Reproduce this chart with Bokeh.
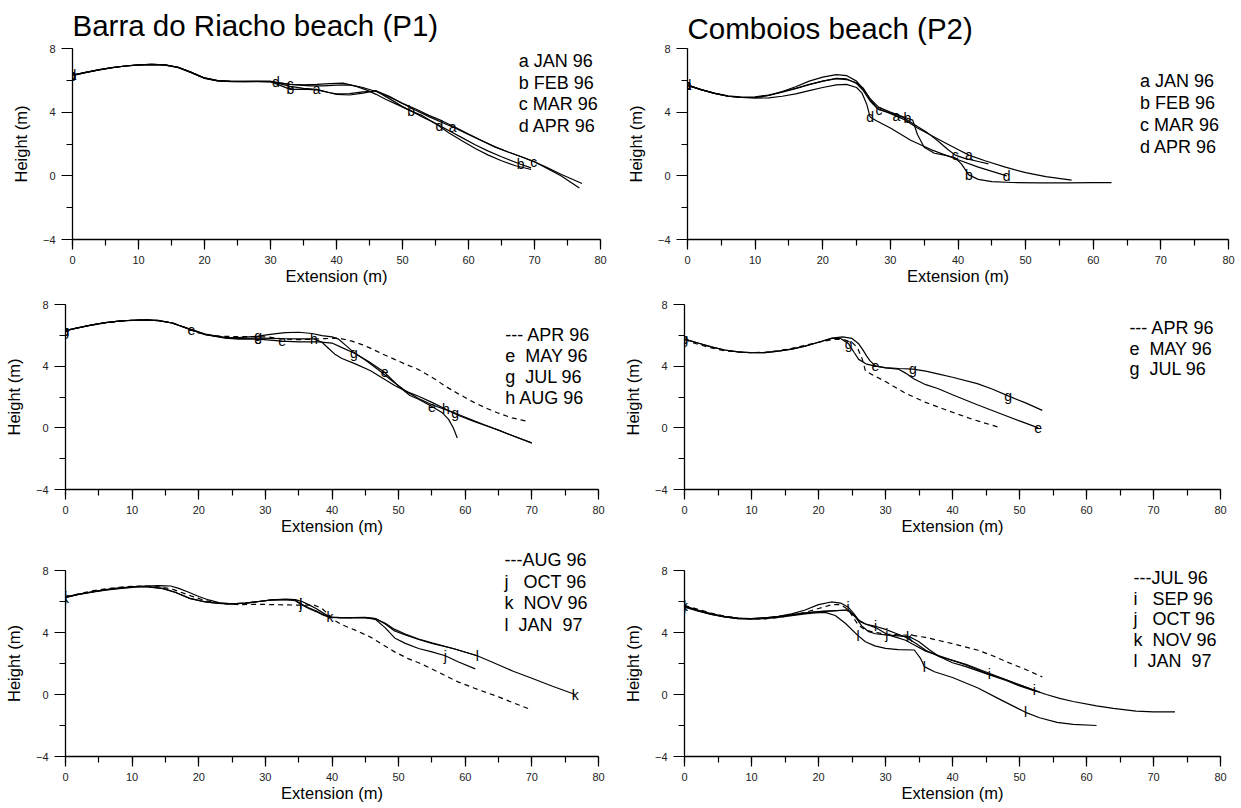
import numpy as np
from bokeh.plotting import figure
from bokeh.models import Range1d, Label, LabelSet, ColumnDataSource, SingleIntervalTicker, Title
from bokeh.layouts import column, row
from bokeh.core.properties import value
from bokeh.embed import file_html
from bokeh.resources import INLINE

FONT = "Liberation Sans"

# ---------------- DATA ----------------
# P1 = Barra do Riacho beach, P2 = Comboios beach ; x = extension (m), y = height (m)
P1_JAN96_x = [0, 2, 4, 6, 8, 10, 12, 14, 16, 18, 20, 22, 24, 26, 28, 30, 33, 35, 37, 39, 40, 42, 44, 46, 48, 50, 52, 54, 56, 57.6, 60, 62, 64, 66, 68, 70, 72, 74, 77.2]
P1_JAN96_y = [6.33, 6.5, 6.66, 6.8, 6.9, 6.97, 7.0, 6.97, 6.82, 6.5, 6.15, 5.98, 5.93, 5.93, 5.94, 5.93, 5.62, 5.5, 5.43, 5.22, 5.12, 5.08, 5.2, 5.35, 5.0, 4.55, 4.12, 3.72, 3.35, 3.07, 2.6, 2.2, 1.82, 1.5, 1.2, 0.88, 0.5, 0.1, -0.48]
P1_FEB96_x = [0, 2, 4, 6, 8, 10, 12, 14, 16, 18, 20, 22, 24, 26, 28, 30, 33, 35, 37, 39, 40, 42, 44, 46, 48, 50, 51.3, 53, 55, 57, 59, 61, 63, 65, 67.9, 69.5]
P1_FEB96_y = [6.3, 6.48, 6.65, 6.79, 6.9, 6.96, 6.99, 6.96, 6.8, 6.48, 6.12, 5.97, 5.92, 5.92, 5.93, 5.92, 5.43, 5.45, 5.4, 5.22, 5.15, 5.16, 5.28, 5.33, 4.85, 4.35, 4.07, 3.7, 3.3, 2.85, 2.4, 1.95, 1.55, 1.2, 0.73, 0.5]
P1_MAR96_x = [0, 2, 4, 6, 8, 10, 12, 14, 16, 18, 20, 22, 24, 26, 28, 30, 33, 36, 38, 40, 42, 44, 46, 48, 50, 52, 54, 56, 58, 60, 62, 64, 66, 68, 69.9, 72, 74, 76.8]
P1_MAR96_y = [6.32, 6.5, 6.66, 6.8, 6.9, 6.97, 7.0, 6.97, 6.82, 6.5, 6.14, 5.97, 5.93, 5.93, 5.94, 5.93, 5.74, 5.65, 5.65, 5.7, 5.72, 5.55, 5.3, 4.95, 4.55, 4.2, 3.8, 3.45, 3.05, 2.62, 2.22, 1.82, 1.5, 1.2, 0.9, 0.45, 0.0, -0.77]
P1_APR96_x = [0, 2, 4, 6, 8, 10, 12, 14, 16, 18, 20, 22, 24, 26, 28, 30, 30.8, 33, 35, 37, 39, 41, 43, 44.5, 46, 47.5, 49.4, 51, 52.9, 55.6, 57, 59, 61.1, 63, 65, 67, 69.5]
P1_APR96_y = [6.33, 6.5, 6.67, 6.8, 6.9, 6.97, 7.0, 6.97, 6.82, 6.5, 6.15, 5.98, 5.93, 5.92, 5.92, 5.9, 5.87, 5.75, 5.72, 5.74, 5.79, 5.82, 5.62, 5.4, 5.12, 4.8, 4.44, 4.13, 3.8, 3.12, 2.7, 2.2, 1.7, 1.3, 0.95, 0.65, 0.4]
P1_MAY96_x = [0, 2, 4, 6, 8, 10, 12, 14, 16, 18.9, 21, 24, 26, 28.9, 32.5, 35, 38, 40, 41.5, 43.3, 45.5, 47.9, 50, 51.7, 53, 55, 56.5, 57.5, 58.2, 58.8]
P1_MAY96_y = [6.3, 6.5, 6.68, 6.82, 6.92, 6.98, 7.0, 6.95, 6.8, 6.35, 6.05, 5.82, 5.75, 5.75, 5.62, 5.58, 5.58, 5.5, 5.2, 4.85, 4.3, 3.6, 2.7, 2.1, 1.85, 1.38, 1.0, 0.55, 0.0, -0.66]
P1_JUL96_x = [0, 2, 4, 6, 8, 10, 12, 14, 16, 18.9, 21, 24, 26, 28.9, 31, 33, 35, 37, 38.5, 40, 41, 42.2, 43.3, 45, 47, 49, 51, 53, 55, 58.5, 62, 66, 70]
P1_JUL96_y = [6.3, 6.5, 6.68, 6.82, 6.92, 6.98, 7.0, 6.95, 6.8, 6.38, 6.08, 5.85, 5.85, 5.95, 6.08, 6.17, 6.2, 6.12, 5.98, 5.9, 5.75, 5.3, 4.88, 4.4, 3.75, 3.05, 2.4, 1.9, 1.5, 0.95, 0.35, -0.32, -0.97]
P1_AUG96_x = [0, 2, 4, 6, 8, 10, 12, 14, 16, 18.9, 21, 24, 26, 28.9, 31, 33, 35, 37.3, 38.5, 39.5, 40.5, 41.5, 43.5, 45.8, 47.5, 49.4, 51.5, 53, 55, 57.1, 59, 61.3, 63, 65, 67, 70]
P1_AUG96_y = [6.3, 6.5, 6.68, 6.82, 6.92, 6.98, 7.0, 6.95, 6.8, 6.35, 6.05, 5.85, 5.8, 5.82, 5.8, 5.78, 5.77, 5.77, 5.55, 5.15, 4.75, 4.5, 4.15, 3.7, 3.25, 2.75, 2.3, 2.05, 1.65, 1.2, 0.8, 0.42, 0.15, -0.15, -0.5, -1.0]
P1_OCT96_x = [0, 2, 4, 6, 8, 10.5, 12, 14.6, 16.5, 18.7, 21, 23, 25, 27, 29, 31, 33, 34.5, 35.3, 36.5, 37.6, 38.7, 39.7, 41, 43, 45, 46.5, 48, 49.4, 51, 53, 55, 57, 59, 61.5]
P1_OCT96_y = [6.28, 6.46, 6.6, 6.73, 6.83, 6.93, 6.96, 6.83, 6.58, 6.18, 5.97, 5.87, 5.85, 5.9, 6.0, 6.1, 6.13, 6.05, 5.83, 5.55, 5.35, 5.12, 4.98, 4.96, 4.96, 4.95, 4.85, 4.3, 3.65, 3.3, 2.97, 2.75, 2.5, 2.1, 1.65]
P1_NOV96_x = [0, 2, 4, 6, 8, 10, 12, 14, 15.8, 17, 18.5, 20, 21.5, 23, 25, 27, 29, 31, 33, 34.5, 35.5, 36.5, 37.6, 38.7, 39.7, 41, 43, 45, 46.5, 48, 49.4, 51, 53, 55, 58.3, 61.8, 64, 67.2, 70, 73, 76.5]
P1_NOV96_y = [6.25, 6.45, 6.62, 6.77, 6.88, 6.95, 7.0, 7.02, 7.0, 6.85, 6.6, 6.32, 6.1, 5.93, 5.85, 5.9, 6.0, 6.1, 6.15, 6.12, 6.0, 5.8, 5.55, 5.25, 5.0, 4.95, 4.95, 4.96, 4.9, 4.55, 4.1, 3.85, 3.55, 3.3, 2.95, 2.5, 2.1, 1.5, 1.05, 0.55, 0.0]
P1_JAN97_x = [0, 2, 4, 6, 8, 10.5, 12, 14.6, 16.5, 18.7, 21, 23, 25, 27, 29, 31, 33, 34.5, 35.3, 36.5, 37.6, 38.7, 39.7, 41, 43, 45, 46.5, 48, 49.4, 51, 53, 55, 58.3, 61.8]
P1_JAN97_y = [6.3, 6.48, 6.62, 6.75, 6.85, 6.95, 6.97, 6.85, 6.6, 6.2, 5.98, 5.88, 5.85, 5.9, 6.0, 6.1, 6.12, 6.08, 5.86, 5.6, 5.4, 5.15, 5.0, 4.97, 4.96, 4.97, 4.9, 4.6, 4.2, 3.9, 3.58, 3.33, 2.95, 2.5]

P2_JAN96_x = [0, 2, 4, 6, 8, 10, 12, 14, 16, 18, 20, 22, 23.5, 25, 26, 27, 28, 29.5, 30.9, 32, 34, 36, 38, 40, 41.6, 44, 47, 50, 53, 56.8]
P2_JAN96_y = [5.68, 5.42, 5.2, 5.03, 4.95, 4.97, 5.08, 5.28, 5.5, 5.75, 5.95, 6.12, 6.1, 5.8, 5.35, 4.7, 4.25, 4.0, 3.75, 3.55, 3.0, 2.55, 2.1, 1.65, 1.3, 0.95, 0.55, 0.2, -0.05, -0.27]
P2_FEB96_x = [0, 2, 4, 6, 8, 10, 12, 14, 16, 18, 20, 22, 23.5, 25, 26, 27, 28.3, 30, 32.5, 33.3, 34, 35, 36.5, 38, 39.5, 40.5, 41.6, 43, 45, 48, 52, 56, 60, 62.7]
P2_FEB96_y = [5.68, 5.42, 5.18, 5.0, 4.92, 4.92, 5.05, 5.3, 5.6, 5.95, 6.2, 6.36, 6.3, 5.95, 5.45, 4.85, 4.3, 4.0, 3.62, 3.5, 2.6, 1.8, 1.42, 1.3, 1.15, 0.75, 0.06, -0.22, -0.36, -0.42, -0.44, -0.44, -0.43, -0.43]
P2_MAR96_x = [0, 2, 4, 6, 8, 10, 12, 14, 16, 18, 20, 22, 23.5, 25, 26, 27, 28.3, 30, 32, 34, 35.5, 37, 38.5, 39.6, 41, 43, 44.5]
P2_MAR96_y = [5.7, 5.42, 5.18, 5.0, 4.92, 4.93, 5.05, 5.25, 5.48, 5.72, 5.95, 6.1, 6.05, 5.85, 5.5, 4.8, 4.15, 3.95, 3.65, 3.1, 2.7, 2.2, 1.65, 1.3, 1.1, 0.9, 0.75]
P2_APR96_x = [0, 2, 4, 6, 8, 10, 12, 14, 16, 18, 20, 22, 23.5, 25, 25.8, 26.5, 27, 28, 30, 33, 36, 39.5, 43, 47.2]
P2_APR96_y = [5.72, 5.42, 5.18, 5.0, 4.92, 4.88, 4.9, 5.0, 5.15, 5.35, 5.55, 5.72, 5.75, 5.55, 5.2, 4.5, 3.7, 3.45, 3.0, 2.24, 1.65, 1.09, 0.55, 0.0]
P2_MAY96_x = [0, 2, 4, 6, 8, 10, 12, 14, 16, 18, 20, 22, 23.6, 25, 26, 26.6, 27.2, 27.7, 28.5, 30, 31.9, 33, 34.2, 36, 37.8, 40, 43.7, 47, 50, 52.8]
P2_MAY96_y = [5.75, 5.5, 5.25, 5.05, 4.93, 4.87, 4.88, 4.97, 5.1, 5.3, 5.55, 5.82, 5.9, 5.8, 5.45, 5.07, 4.65, 4.34, 4.02, 3.88, 3.81, 3.55, 3.18, 2.8, 2.55, 2.15, 1.5, 0.95, 0.45, 0.0]
P2_JUL96_x = [0, 2, 4, 6, 8, 10, 12, 14, 16, 18, 20, 22, 23.3, 24.5, 25.3, 26, 27.2, 28.5, 30, 32, 34.1, 36, 37.8, 40, 43.7, 46, 48.3, 51, 53.4]
P2_JUL96_y = [5.75, 5.5, 5.25, 5.05, 4.93, 4.87, 4.88, 4.97, 5.1, 5.3, 5.55, 5.8, 5.8, 5.45, 4.9, 4.44, 4.13, 4.0, 3.9, 3.85, 3.81, 3.68, 3.5, 3.28, 2.87, 2.5, 2.07, 1.6, 1.13]
P2_SEP96_x = [0, 2, 4, 6, 8, 10, 12, 14, 16, 18, 20, 21.9, 23.3, 24.4, 25.3, 26, 27, 28.5, 30, 31.5, 33, 34.5, 36, 38, 40, 42, 45.5, 48, 50, 52.2, 54, 56, 58, 61.5, 64, 67.4, 70, 73.2]
P2_SEP96_y = [5.7, 5.45, 5.2, 5.02, 4.92, 4.9, 4.95, 5.05, 5.2, 5.45, 5.8, 5.97, 5.9, 5.65, 5.2, 4.8, 4.55, 4.4, 4.2, 3.95, 3.7, 3.3, 2.85, 2.45, 2.2, 1.9, 1.3, 0.95, 0.62, 0.27, 0.0, -0.25, -0.45, -0.73, -0.9, -1.07, -1.12, -1.12]
P2_OCT96_x = [0, 2, 4, 6, 8, 10, 12, 14, 16, 18, 20, 22, 24.4, 25.3, 26.2, 27.3, 28.6, 30.2, 31.5, 33, 34.5, 36, 38, 40, 42, 45, 48, 50, 53]
P2_OCT96_y = [5.65, 5.4, 5.17, 5.0, 4.9, 4.88, 4.92, 5.02, 5.15, 5.27, 5.35, 5.4, 5.45, 5.1, 4.7, 4.5, 4.3, 3.88, 3.7, 3.5, 3.15, 2.8, 2.5, 2.2, 1.95, 1.45, 0.95, 0.62, 0.15]
P2_NOV96_x = [0, 2, 4, 6, 8, 10, 12, 14, 16, 18, 20, 22, 24.4, 25.5, 26.5, 27.5, 28.5, 30, 31.5, 33.6, 35, 36.5, 38, 40, 42, 45, 48, 50, 52.5]
P2_NOV96_y = [5.7, 5.42, 5.2, 5.02, 4.93, 4.9, 4.95, 5.03, 5.12, 5.25, 5.35, 5.4, 5.45, 5.0, 4.4, 4.05, 3.92, 3.85, 3.8, 3.72, 3.4, 2.9, 2.45, 2.05, 1.8, 1.35, 0.9, 0.55, 0.2]
P2_JAN97_x = [0, 2, 4, 6, 8, 10, 12, 14, 16, 18, 19.5, 21, 22.5, 24, 25.9, 27, 28.4, 30, 31.9, 34.3, 35.2, 35.8, 37.3, 40, 43.8, 47, 50.9, 53, 55.6, 58, 61.5]
P2_JAN97_y = [5.65, 5.4, 5.17, 5.0, 4.9, 4.87, 4.9, 4.98, 5.08, 5.2, 5.27, 5.3, 5.1, 4.6, 3.8, 3.4, 3.14, 2.98, 2.89, 2.87, 2.35, 1.8, 1.47, 1.1, 0.42, -0.3, -1.15, -1.5, -1.8, -1.93, -2.0]

# extension (m) at which each survey letter is written on its profile
P1_JAN96_marks = [0, 37, 57.6]
P1_FEB96_marks = [0, 33, 51.3, 67.9]
P1_MAR96_marks = [0, 33, 69.9]
P1_APR96_marks = [0, 30.8, 55.6]
P1_MAY96_marks = [0, 18.9, 28.9, 32.5, 47.9, 55]
P1_JUL96_marks = [0, 28.9, 43.3, 58.5]
P1_AUG96_marks = [0, 37.3, 57.1]
P1_OCT96_marks = [0, 35.3, 57]
P1_NOV96_marks = [0, 39.7, 76.5]
P1_JAN97_marks = [0, 35.3, 61.8]
P2_JAN96_marks = [0, 30.9, 41.6]
P2_FEB96_marks = [0, 32.5, 41.6]
P2_MAR96_marks = [0, 28.3, 39.6]
P2_APR96_marks = [0, 27, 47.2]
P2_MAY96_marks = [0, 28.5, 52.8]
P2_JUL96_marks = [0, 24.5, 34.1, 48.3]
P2_SEP96_marks = [0, 24.4, 28.5, 45.5, 52.2]
P2_OCT96_marks = [0, 30.2]
P2_NOV96_marks = [0, 33.6]
P2_JAN97_marks = [0, 25.9, 35.8, 50.9]

NB = "\u00a0"
LEG1 = ["a JAN 96", "b FEB 96", "c MAR 96", "d APR 96"]
LEG2 = ["a JAN 96", "b FEB 96", "c MAR 96", "d APR 96"]
LEG3 = ["--- APR 96", "e" + NB * 2 + "MAY 96", "g" + NB * 2 + "JUL 96", "h AUG 96"]
LEG4 = ["--- APR 96", "e" + NB * 2 + "MAY 96", "g" + NB * 2 + "JUL 96"]
LEG5 = ["---AUG 96", "j" + NB * 3 + "OCT 96", "k" + NB * 2 + "NOV 96", "l" + NB * 2 + "JAN" + NB * 2 + "97"]
LEG6 = ["---JUL 96", "i" + NB * 3 + "SEP 96", "j" + NB * 3 + "OCT 96", "k" + NB * 2 + "NOV 96", "l" + NB * 2 + "JAN" + NB * 2 + "97"]

TITLE_P1 = "Barra do Riacho beach (P1)"
TITLE_P2 = "Comboios beach (P2)"

# ---------------- LAYOUT / STYLE ----------------
def make_panel(w, h, bl, br, bt, bb, series, legend, leg_x, leg_y,
               title=None, title_standoff=6, top_legend=None):
    p = figure(width=w, height=h, x_range=Range1d(0, 80), y_range=Range1d(-4, 8),
               output_backend="svg", toolbar_location=None, title=title,
               min_border_left=bl, min_border_right=br, min_border_top=bt, min_border_bottom=bb)
    p.outline_line_color = None
    p.xgrid.visible = False
    p.ygrid.visible = False
    p.background_fill_color = "white"
    p.border_fill_color = "white"
    if title is not None:
        p.title.text_font = FONT
        p.title.text_font_size = "29.5px"
        p.title.text_font_style = "normal"
        p.title.text_color = "black"
        p.title.align = "left"
        p.title.vertical_align = "top"
        p.title.offset = 0
        p.title.standoff = title_standoff

    p.xaxis.ticker = SingleIntervalTicker(interval=10, num_minor_ticks=2)
    p.yaxis.ticker = SingleIntervalTicker(interval=4, num_minor_ticks=2)
    for ax in (p.xaxis[0], p.yaxis[0]):
        ax.axis_line_color = "black"
        ax.axis_line_width = 1.3
        ax.major_tick_line_color = "black"
        ax.minor_tick_line_color = "black"
        ax.major_tick_line_width = 1.2
        ax.minor_tick_line_width = 1.2
        ax.major_tick_in = 0
        ax.minor_tick_in = 0
        ax.major_label_text_font = FONT
        ax.major_label_text_font_size = "11px"
        ax.major_label_text_color = "#222222"
        ax.axis_label_text_font = FONT
        ax.axis_label_text_font_size = "16.5px"
        ax.axis_label_text_font_style = "normal"
        ax.axis_label_text_color = "black"
    p.xaxis.axis_label = "Extension (m)"
    p.yaxis.axis_label = "Height (m)"
    p.xaxis.major_tick_out = 10
    p.xaxis.minor_tick_out = 6
    p.xaxis.major_label_standoff = 6
    p.xaxis.axis_label_standoff = 0
    p.yaxis.major_tick_out = 11
    p.yaxis.minor_tick_out = 6
    p.yaxis.major_label_standoff = 6
    p.yaxis.axis_label_standoff = 10

    for xs, ys, letter, dashed, marks in series:
        if dashed:
            p.line(xs, ys, line_color="black", line_width=1.2, line_dash="5 4")
        else:
            p.line(xs, ys, line_color="black", line_width=1.2)
        if letter:
            my = np.interp(marks, xs, ys)
            src = ColumnDataSource(dict(x=list(marks), y=list(my), t=[letter] * len(marks)))
            p.add_layout(LabelSet(x="x", y="y", text="t", source=src,
                                  text_font=value(FONT), text_font_size=value("14px"),
                                  text_color=value("black"), text_align="center",
                                  text_baseline="middle"))
    for t, yy in zip(legend, leg_y):
        p.add_layout(Label(x=leg_x, y=yy, text=t, text_font=FONT, text_font_size="18px",
                           text_color="black", text_baseline="middle", text_align="left"))
    if top_legend is not None:
        text, off, so = top_legend
        p.add_layout(Title(text=text, align="left", offset=off, standoff=so,
                           text_font=FONT, text_font_size="18px", text_font_style="normal",
                           text_color="black"), "above")
    return p


p1 = make_panel(620, 290, 72, 20, 47, 51,
                [(P1_JAN96_x, P1_JAN96_y, "a", False, P1_JAN96_marks),
                 (P1_FEB96_x, P1_FEB96_y, "b", False, P1_FEB96_marks),
                 (P1_MAR96_x, P1_MAR96_y, "c", False, P1_MAR96_marks),
                 (P1_APR96_x, P1_APR96_y, "d", False, P1_APR96_marks)],
                LEG1, 67.6, [7.2, 5.85, 4.49, 3.13],
                title=TITLE_P1, title_standoff=9)

p2 = make_panel(621, 290, 67, 13, 48, 51,
                [(P2_JAN96_x, P2_JAN96_y, "a", False, P2_JAN96_marks),
                 (P2_FEB96_x, P2_FEB96_y, "b", False, P2_FEB96_marks),
                 (P2_MAR96_x, P2_MAR96_y, "c", False, P2_MAR96_marks),
                 (P2_APR96_x, P2_APR96_y, "d", False, P2_APR96_marks)],
                LEG2, 66.9, [5.94, 4.57, 3.2, 1.83],
                title=TITLE_P2, title_standoff=4)

p3 = make_panel(620, 250, 65, 22, 11, 51,
                [(P1_APR96_x, P1_APR96_y, None, True, None),
                 (P1_MAY96_x, P1_MAY96_y, "e", False, P1_MAY96_marks),
                 (P1_JUL96_x, P1_JUL96_y, "g", False, P1_JUL96_marks),
                 (P1_AUG96_x, P1_AUG96_y, "h", False, P1_AUG96_marks)],
                LEG3, 66.0, [6.03, 4.65, 3.27, 1.93])

p4 = make_panel(621, 250, 64, 21, 14, 46,
                [(P2_APR96_x, P2_APR96_y, None, True, None),
                 (P2_MAY96_x, P2_MAY96_y, "e", False, P2_MAY96_marks),
                 (P2_JUL96_x, P2_JUL96_y, "g", False, P2_JUL96_marks)],
                LEG4, 66.4, [6.49, 5.13, 3.81])

p5 = make_panel(620, 268, 65, 22, 29, 52,
                [(P1_AUG96_x, P1_AUG96_y, None, True, None),
                 (P1_OCT96_x, P1_OCT96_y, "j", False, P1_OCT96_marks),
                 (P1_NOV96_x, P1_NOV96_y, "k", False, P1_NOV96_marks),
                 (P1_JAN97_x, P1_JAN97_y, "l", False, P1_JAN97_marks)],
                LEG5[1:], 65.9, [7.29, 5.9, 4.51],
                top_legend=(LEG5[0], 439, 2))

p6 = make_panel(621, 268, 64, 21, 30, 47,
                [(P2_JUL96_x, P2_JUL96_y, None, True, None),
                 (P2_SEP96_x, P2_SEP96_y, "i", False, P2_SEP96_marks),
                 (P2_OCT96_x, P2_OCT96_y, "j", False, P2_OCT96_marks),
                 (P2_NOV96_x, P2_NOV96_y, "k", False, P2_NOV96_marks),
                 (P2_JAN97_x, P2_JAN97_y, "l", False, P2_JAN97_marks)],
                LEG6, 67.0, [7.5, 6.18, 4.85, 3.52, 2.16])

layout = column(row(p1, p2), row(p3, p4), row(p5, p6))
open("out.html", "w").write(file_html(layout, INLINE))
